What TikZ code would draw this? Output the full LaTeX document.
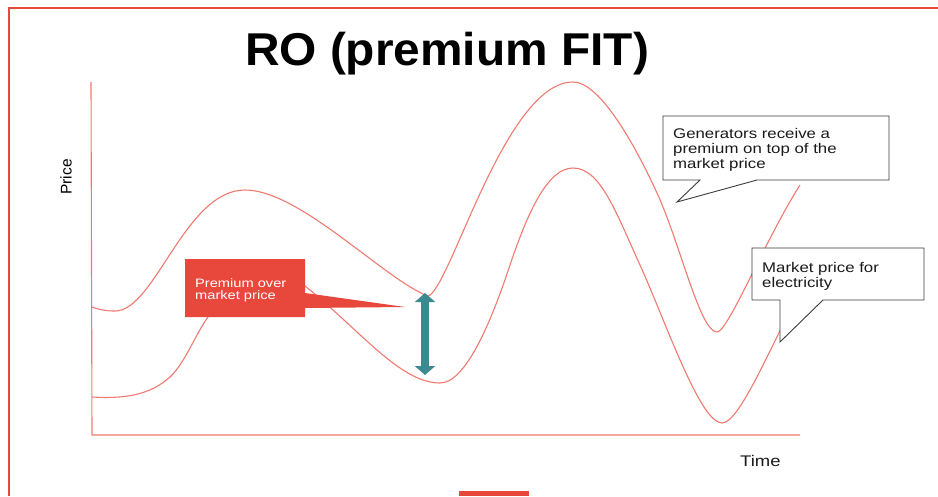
\documentclass[tikz,border=0pt]{standalone}
\usepackage{fontspec}
\setmainfont{Liberation Sans}
\newfontfamily\rowide[FakeStretch=1.2]{Liberation Sans}
\newfontfamily\rotitle[FakeStretch=1.04]{Liberation Sans}
\usetikzlibrary{arrows.meta}
\definecolor{roink}{HTML}{1A1A1A}
\definecolor{rored}{HTML}{E8473B}
\definecolor{roline}{HTML}{F07A70}
\definecolor{roteal}{HTML}{3B8A8F}
\definecolor{rogrey}{HTML}{3C3C3C}
\tikzset{
  ro frame/.style={draw=rored, line width=1.5pt},
  ro axis/.style={draw=roline, line width=1.1pt},
  ro curve/.style={draw=roline, line width=1.1pt},
  ro callout/.style={draw=rogrey, line width=0.9pt, fill=white, line join=miter},
  ro tag/.style={fill=rored},
  ro note/.style={font=\rowide\fontsize{14}{15.3}\selectfont, text=roink,
    align=left, inner sep=0pt, anchor=north west},
  ro label/.style={font=\rowide\fontsize{15.4}{17}\selectfont, text=roink, inner sep=0pt},
  ro arrow/.style={{Triangle[width=20pt,length=9pt]}-{Triangle[width=20pt,length=9pt]},
    draw=roteal, line width=8pt}
}

\begin{document}
\begin{tikzpicture}[x=1pt, y=-1pt]
  \useasboundingbox (0,0) rectangle (938,496);
  \draw[ro frame] (9,496) -- (9,8) -- (938,8);
  \fill[ro tag] (459,491) rectangle (529,496);
  \node[font=\rotitle\bfseries\fontsize{46}{50}\selectfont, anchor=base, inner sep=0pt] (title)
    at (447,65) {RO (premium FIT)};
  % axes
  \draw[ro axis] (91,82) -- (92,435) -- (800,435);
  \node[font=\fontsize{15.5}{17}\selectfont, rotate=90, inner sep=0pt] (price) at (66,177) {Price};
  \node[ro label, anchor=base west] (time) at (740,466) {Time};
  % price with premium on top
  \draw[ro curve] (92,307) .. controls (100,310) and (107,311) .. (115,311)
    .. controls (155,311) and (185,190) .. (245,190)
    .. controls (300,190) and (385,280) .. (428,296)
    .. controls (450,290) and (505,82) .. (573,82)
    .. controls (600,82) and (635,145) .. (657,193)
    .. controls (680,243) and (700,332) .. (717,332)
    .. controls (728,332) and (765,240) .. (800,185);
  % market price
  \draw[ro curve] (92,397) .. controls (125,399) and (150,395) .. (170,377)
    .. controls (185,363) and (195,335) .. (208,317)
    .. controls (230,280) and (270,262) .. (305,286)
    .. controls (360,330) and (400,383) .. (440,383)
    .. controls (465,383) and (490,325) .. (509,268)
    .. controls (528,211) and (548,168) .. (573,168)
    .. controls (600,168) and (615,210) .. (640,265)
    .. controls (665,320) and (700,423) .. (722,423)
    .. controls (738,423) and (765,360) .. (800,290);
  % premium tag
  \fill[ro tag] (185,259) -- (305,259) -- (305,293) -- (405,307) -- (305,308)
    -- (305,317) -- (185,317) -- cycle;
  \node[ro note, text=white, font=\rowide\fontsize{12.2}{12.7}\selectfont] (premium)
    at (195,278) {Premium over\\market price};
  \coordinate (gaptop) at (425,293);
  \coordinate (gapbot) at (425,375);
  \draw[ro arrow] (gaptop) -- (gapbot);
  % callouts
  \draw[ro callout] (663,116) -- (889,116) -- (889,180) -- (757,180) -- (677,202)
    -- (700,180) -- (663,180) -- cycle;
  \node[ro note] (generators) at (673,128) {Generators receive a\\premium on top of the\\market price};
  \draw[ro callout] (752,248) -- (924,248) -- (924,300) -- (823,300) -- (780,342)
    -- (780,300) -- (752,300) -- cycle;
  \node[ro note] (market) at (762,262) {Market price for\\electricity};
\end{tikzpicture}
\end{document}
